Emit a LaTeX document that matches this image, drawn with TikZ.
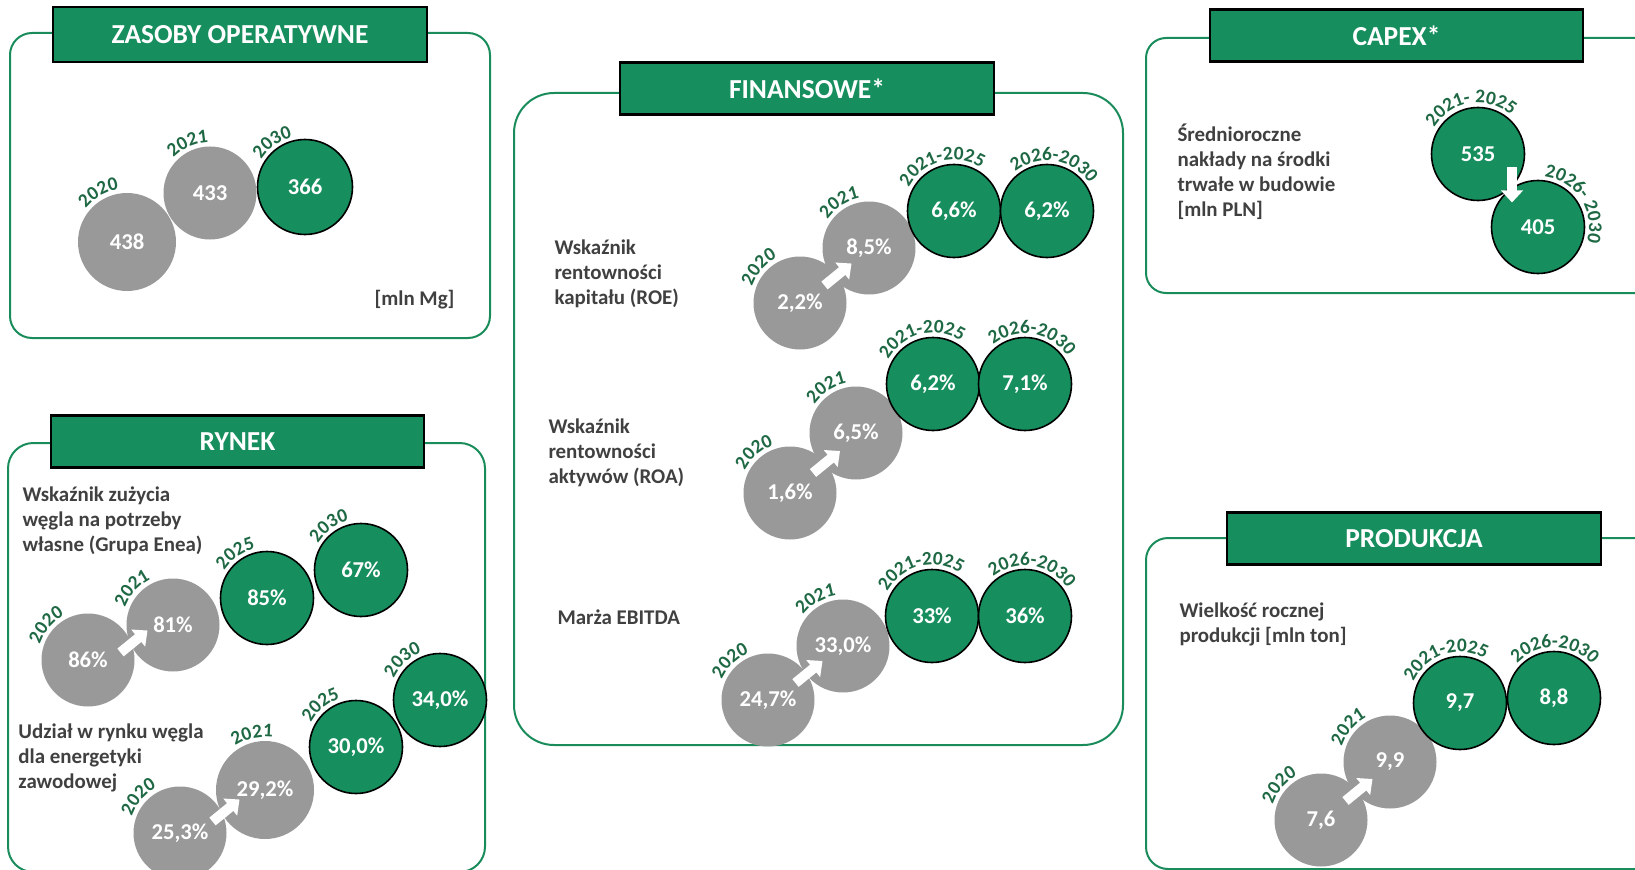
\documentclass[tikz,border=0pt]{standalone}
\usepackage{fontspec}
\setmainfont{Carlito}
\usetikzlibrary{arrows.meta,calc,decorations.text}

\definecolor{eneagreen}{RGB}{23,142,94}
\definecolor{framegreen}{RGB}{26,140,92}
\definecolor{yeargreen}{RGB}{30,104,68}
\definecolor{dotgray}{RGB}{153,153,153}
\definecolor{textgray}{RGB}{64,64,64}

\newcommand{\yearfont}{\fontsize{14.5}{14.5}\selectfont\bfseries\color{yeargreen}}
% year text bent round a dot: node, radius, angle of its middle, text
\newcommand{\yearlab}[4]{%
	\path[decorate, decoration={text along path, text align=center, text={|\yearfont|#4}}]
	($(#1)+(-#3-75:#2)$) arc[start angle=-#3-75, end angle=-#3+75, radius=#2];}

\tikzset{every picture/.style={line width=0.75pt}}
\tikzset{
	panel/.style={draw=framegreen, line width=1.5pt, rounded corners=#1},
	panel/.default=16.5pt,
	headbox/.style={draw=black, line width=1.6pt, fill=eneagreen, text=white, minimum width=280pt, minimum height=39pt, inner sep=0pt, font=\fontsize{20.6}{24}\selectfont\bfseries},
	graydot/.style={circle, fill=dotgray, minimum size=69.75pt, inner sep=0pt, text=white, font=\fontsize{17}{20}\selectfont\bfseries},
	greendot/.style={graydot, fill=eneagreen, draw=black, line width=1.2pt},
	desc/.style={align=left, anchor=west, inner sep=0pt, text=textgray, font=\fontsize{15.7}{18.8}\selectfont\bfseries},
	growarrow/.style={draw=white, line width=7.5pt, -{Triangle[width=16pt,length=9pt,fill=white]}}
}

\begin{document}
\begin{tikzpicture}[x=0.75pt,y=0.75pt,yscale=-1,xscale=1]
	\useasboundingbox (0,0) rectangle (1635,870);
	\clip (0,0) rectangle (1635,870);

	%Shape: Rounded Rect [zasoby]
	\draw[panel] (10,33) rectangle (490,338);
	%Shape: Rounded Rect [rynek]
	\draw[panel=19pt] (8,443) rectangle (485,872);
	%Shape: Rounded Rect [finansowe]
	\draw[panel=30pt] (514,93) rectangle (1123,745);
	%Shape: Rounded Rect [capex]
	\draw[panel=15pt] (1146,38) rectangle (1700,293);
	%Shape: Rounded Rect [produkcja]
	\draw[panel] (1146,538) rectangle (1660,869);

	% Header Nodes
	\node[headbox, minimum height=41pt] (hzas) at (240,34.5) {ZASOBY OPERATYWNE};
	\node[headbox] (hryn) at (237.5,441.5) {RYNEK};
	\node[headbox] (hfin) at (807,88.5) {FINANSOWE*};
	\node[headbox] (hcap) at (1396.5,35.5) {CAPEX*};
	\node[headbox] (hprod) at (1414,538.5) {PRODUKCJA};

	% Text Node
	\node[desc, anchor=east] (zunit) at (455,300) {[mln Mg]};
	% Text Node
	\node[desc] (rtxt1) at (22,521) {Wskaźnik zużycia\\węgla na potrzeby\\własne (Grupa Enea)};
	% Text Node
	\node[desc] (rtxt2) at (18,758) {Udział w rynku węgla\\dla energetyki\\zawodowej};
	% Text Node
	\node[desc] (froe) at (554,273.5) {Wskaźnik\\rentowności\\kapitału (ROE)};
	% Text Node
	\node[desc] (froa) at (548,452.5) {Wskaźnik\\rentowności\\aktywów (ROA)};
	% Text Node
	\node[desc] (febit) at (557,617) {Marża EBITDA};
	% Text Node
	\node[desc] (ctxt) at (1177,172) {Średnioroczne\\nakłady na środki\\trwałe w budowie\\{[mln PLN]}};
	% Text Node
	\node[desc] (ptxt) at (1179,624.5) {Wielkość rocznej\\produkcji [mln ton]};

	%Shape: Circle [zasoby]
	\node[graydot, minimum size=73.5pt] (z20) at (127,242) {438};
	\node[graydot] (z21) at (210,193) {433};
	\node[greendot, minimum size=71.25pt] (z30) at (305,187) {366};

	%Shape: Circle [rynek]
	\node[graydot] (r1a) at (88,660) {86\%};
	\node[graydot] (r1b) at (173,625) {81\%};
	\node[greendot] (r1c) at (267,598) {85\%};
	\node[greendot] (r1d) at (361,570) {67\%};
	\node[graydot] (r2a) at (180,833) {25,3\%};
	\node[graydot, minimum size=73.5pt] (r2b) at (265,790) {29,2\%};
	\node[greendot] (r2c) at (356,747) {30,0\%};
	\node[greendot] (r2d) at (440,700) {34,0\%};

	%Shape: Circle [finansowe]
	\node[graydot] (fa1) at (800,303) {2,2\%};
	\node[graydot] (fa2) at (869,248) {8,5\%};
	\node[greendot] (fa3) at (954,211) {6,6\%};
	\node[greendot] (fa4) at (1047,211) {6,2\%};
	\node[graydot] (fb1) at (790,493) {1,6\%};
	\node[graydot] (fb2) at (856,433) {6,5\%};
	\node[greendot] (fb3) at (933,384) {6,2\%};
	\node[greendot] (fb4) at (1025,384) {7,1\%};
	\node[graydot] (fc1) at (768,700) {24,7\%};
	\node[graydot] (fc2) at (843,646) {33,0\%};
	\node[greendot] (fc3) at (932,616) {33\%};
	\node[greendot] (fc4) at (1025,616) {36\%};

	%Shape: Circle [capex]
	\node[greendot] (c1) at (1478,154) {535};
	\node[greendot] (c2) at (1538,227) {405};

	%Shape: Circle [produkcja]
	\node[graydot] (p1) at (1321,820) {7,6};
	\node[graydot] (p2) at (1390,762) {9,9};
	\node[greendot] (p3) at (1460,703) {9,7};
	\node[greendot] (p4) at (1554,698) {8,8};

	%Straight Lines [white arrows]
	\draw[growarrow] ($(r1a)!0.5!(r1b)+(-10,10)$) -- ($(r1a)!0.5!(r1b)+(17,-12)$);
	\draw[growarrow] ($(r2a)!0.5!(r2b)+(-10,10)$) -- ($(r2a)!0.5!(r2b)+(17,-12)$);
	\draw[growarrow] ($(fa1)!0.5!(fa2)+(-10,10)$) -- ($(fa1)!0.5!(fa2)+(17,-12)$);
	\draw[growarrow] ($(fb1)!0.5!(fb2)+(-10,10)$) -- ($(fb1)!0.5!(fb2)+(17,-12)$);
	\draw[growarrow] ($(fc1)!0.5!(fc2)+(-10,10)$) -- ($(fc1)!0.5!(fc2)+(17,-12)$);
	\draw[growarrow] ($(p1)!0.5!(p2)+(-10,10)$) -- ($(p1)!0.5!(p2)+(17,-12)$);
	\draw[growarrow] ($(c1)!0.5!(c2)+(4,-23)$) -- ($(c1)!0.5!(c2)+(4,12)$);

	% Year Labels
	\yearlab{z20}{53}{120}{2020}
	\yearlab{z21}{50.5}{114}{2021}
	\yearlab{z30}{51.5}{126}{2030}
	\yearlab{r1a}{50.5}{140}{2020}
	\yearlab{r1b}{51}{138}{2021}
	\yearlab{r1c}{51}{125}{2025}
	\yearlab{r1d}{50.5}{126}{2030}
	\yearlab{r2a}{51}{139}{2020}
	\yearlab{r2b}{53}{103}{2021}
	\yearlab{r2c}{51}{130}{2025}
	\yearlab{r2d}{51}{133}{2030}
	\yearlab{fa1}{50.5}{139}{2020}
	\yearlab{fa2}{50.5}{123}{2021}
	\yearlab{fa3}{51}{105}{2021-2025}
	\yearlab{fa4}{50.5}{81}{2026-2030}
	\yearlab{fb1}{50.5}{131}{2020}
	\yearlab{fb2}{50.5}{123}{2021}
	\yearlab{fb3}{51}{104}{2021-2025}
	\yearlab{fb4}{50.5}{81}{2026-2030}
	\yearlab{fc1}{50.5}{134}{2020}
	\yearlab{fc2}{50.5}{120}{2021}
	\yearlab{fc3}{51}{104}{2021-2025}
	\yearlab{fc4}{50.5}{81}{2026-2030}
	\yearlab{c1}{51}{99}{2021- 2025}
	\yearlab{c2}{51}{33}{2026- 2030}
	\yearlab{p1}{50.5}{140}{2020}
	\yearlab{p2}{50.5}{140}{2021}
	\yearlab{p3}{51}{108}{2021-2025}
	\yearlab{p4}{50.5}{89}{2026-2030}

\end{tikzpicture}
\end{document}
